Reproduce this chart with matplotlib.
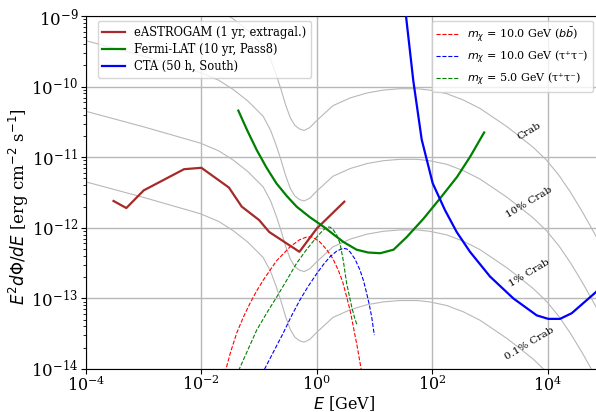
import numpy as np
import matplotlib
matplotlib.use('Agg')
import matplotlib.pyplot as plt

plt.rcParams['font.family'] = 'serif'

# Crab reference spectrum (log10 E [GeV], log10 E^2 dN/dE [erg cm^-2 s^-1])
crab_logE = [-4.0, -3.0, -2.02, -1.7, -1.45, -1.2, -0.93, -0.80, -0.70, -0.62, -0.54, -0.46,
             -0.38, -0.30, -0.22, -0.12, 0.0, 0.28, 0.58, 0.87, 1.15, 1.44, 1.74, 1.96, 2.25,
             2.54, 2.83, 3.12, 3.3, 3.52, 3.75, 3.98, 4.2, 4.4, 4.6, 4.84, 5.0]
crab_logF = [-8.35, -8.57, -8.80, -8.91, -9.04, -9.20, -9.42, -9.62, -9.84, -10.04, -10.26,
             -10.44, -10.55, -10.60, -10.62, -10.58, -10.48, -10.27, -10.16, -10.09, -10.05,
             -10.03, -10.03, -10.05, -10.10, -10.19, -10.31, -10.47, -10.57, -10.71, -10.86,
             -11.04, -11.26, -11.5, -11.77, -12.12, -12.38]
crab_scales = [1.0, 0.1, 0.01, 0.001]
crab_labels = ['Crab', '10% Crab', '1% Crab', '0.1% Crab']

# instrument sensitivities
eastrogam_E = [0.0003, 0.0005, 0.001, 0.005, 0.01, 0.03, 0.05, 0.1, 0.15, 0.5, 1.0, 3.0]
eastrogam_logF = [-11.62, -11.72, -11.47, -11.17, -11.15, -11.43, -11.70, -11.89, -12.06,
                  -12.34, -12.01, -11.63]

fermi_logE = [-1.36, -1.2, -1.04, -0.87, -0.70, -0.52, -0.35, -0.12, 0.11, 0.3, 0.46, 0.69,
              0.89, 1.10, 1.33, 1.56, 1.85, 2.14, 2.43, 2.66, 2.90]
fermi_logF = [-10.34, -10.63, -10.90, -11.15, -11.37, -11.55, -11.70, -11.85, -11.98, -12.10,
              -12.20, -12.31, -12.35, -12.36, -12.31, -12.13, -11.87, -11.58, -11.28, -10.99,
              -10.65]

cta_logE = [1.50, 1.546, 1.673, 1.818, 2.009, 2.222, 2.425, 2.655, 3.002, 3.406, 3.811, 4.012,
            4.215, 4.418, 4.839, 5.0]
cta_logF = [-8.7, -9.0, -9.92, -10.75, -11.37, -11.75, -12.06, -12.34, -12.69, -13.00, -13.24,
            -13.29, -13.29, -13.21, -12.91, -12.76]

# dark matter spectra
dm_bb10_logE = [-1.65, -1.574, -1.49, -1.388, -1.27, -1.158, -1.04, -0.927, -0.70, -0.464,
                -0.30, -0.175, -0.088, 0.04, 0.172, 0.28, 0.373, 0.45, 0.518, 0.58, 0.633,
                0.70, 0.766, 0.80]
dm_bb10_logF = [-14.3, -14.0, -13.75, -13.49, -13.26, -13.07, -12.89, -12.74, -12.47, -12.27,
                -12.17, -12.13, -12.13, -12.19, -12.31, -12.44, -12.60, -12.77, -12.98,
                -13.18, -13.40, -13.68, -13.99, -14.2]
dm_tt10_logE = [-0.95, -0.898, -0.74, -0.581, -0.44, -0.291, -0.15, -0.002, 0.115, 0.229,
                0.345, 0.459, 0.52, 0.575, 0.66, 0.749, 0.81, 0.865, 0.91, 0.951, 0.997]
dm_tt10_logF = [-14.08, -13.99, -13.74, -13.49, -13.25, -13.02, -12.83, -12.65, -12.52, -12.41,
                -12.33, -12.29, -12.30, -12.34, -12.44, -12.60, -12.75, -12.93, -13.09,
                -13.26, -13.52]
dm_tt5_logE = [-1.40, -1.343, -1.19, -1.042, -0.87, -0.695, -0.52, -0.348, -0.17, 0.0, 0.09,
               0.172, 0.23, 0.286, 0.345, 0.402, 0.46, 0.518, 0.56, 0.605, 0.65, 0.702]
dm_tt5_logF = [-14.1, -14.0, -13.72, -13.45, -13.21, -12.98, -12.74, -12.50, -12.30, -12.13,
               -12.05, -11.99, -11.99, -12.03, -12.10, -12.22, -12.47, -12.79, -12.95,
               -13.12, -13.26, -13.39]

fig = plt.figure(figsize=(5.96, 4.12), dpi=100)
ax = fig.add_axes([86 / 596, 43 / 412, 513.7 / 596, 353 / 412])

crabE = np.power(10.0, crab_logE)
crabF = np.power(10.0, crab_logF)
for s, lab in zip(crab_scales, crab_labels):
    ax.plot(crabE, crabF * s, color='0.72', lw=0.8, zorder=1)
    ax.text(4.8e3, 2.3e-11 * s, lab, rotation=31, fontsize=7.5,
            ha='center', va='center', zorder=2)

l1, = ax.plot(eastrogam_E, np.power(10.0, eastrogam_logF), color='brown', lw=1.6,
              label='eASTROGAM (1 yr, extragal.)', zorder=3)
l2, = ax.plot(np.power(10.0, fermi_logE), np.power(10.0, fermi_logF), color='green', lw=1.6,
              label='Fermi-LAT (10 yr, Pass8)', zorder=3)
l3, = ax.plot(np.power(10.0, cta_logE), np.power(10.0, cta_logF), color='blue', lw=1.6,
              label='CTA (50 h, South)', zorder=3)

d1, = ax.plot(np.power(10.0, dm_bb10_logE), np.power(10.0, dm_bb10_logF), 'r--', lw=0.8,
              label=r'$m_\chi$ = 10.0 GeV ($b\bar{b}$)', zorder=3)
d2, = ax.plot(np.power(10.0, dm_tt10_logE), np.power(10.0, dm_tt10_logF), 'b--', lw=0.8,
              label='$m_\\chi$ = 10.0 GeV (\u03c4\u207a\u03c4\u207b)', zorder=3)
d3, = ax.plot(np.power(10.0, dm_tt5_logE), np.power(10.0, dm_tt5_logF), 'g--', lw=0.8,
              label='$m_\\chi$ = 5.0 GeV (\u03c4\u207a\u03c4\u207b)', zorder=3)

ax.set_xscale('log')
ax.set_yscale('log')
ax.set_xlim(1e-4, 8e4)
ax.set_ylim(1e-14, 1e-9)
ax.set_xticks([1e-4, 1e-2, 1e0, 1e2, 1e4])
ax.xaxis.set_minor_locator(matplotlib.ticker.NullLocator())
ax.set_yticks([1e-14, 1e-13, 1e-12, 1e-11, 1e-10, 1e-9])
ax.yaxis.set_minor_locator(matplotlib.ticker.LogLocator(base=10, subs=np.arange(2, 10)))
ax.yaxis.set_minor_formatter(matplotlib.ticker.NullFormatter())
ax.tick_params(axis='y', labelsize=12, pad=2)
ax.tick_params(axis='x', labelsize=11.5, pad=1)
ax.grid(True, which='major', color='0.72', lw=1.0)
ax.set_axisbelow(True)

ax.set_xlabel(r'$E$ [GeV]', fontsize=11.5, va='top')
ax.xaxis.set_label_coords(0.502, -0.071)
ax.set_ylabel(r'$E^2 d\Phi/dE$ [erg cm$^{-2}$ s$^{-1}$]', fontsize=12)
ax.yaxis.set_label_coords(-0.108, 0.46)

leg1 = ax.legend(handles=[l1, l2, l3], loc='upper left', fontsize=8.3, labelspacing=0.37,
                 bbox_to_anchor=(0.0224, 0.986), borderaxespad=0)
ax.add_artist(leg1)
ax.legend(handles=[d1, d2, d3], loc='upper right', fontsize=8,
          bbox_to_anchor=(0.987, 0.986), borderaxespad=0, labelspacing=0.4)

fig.savefig('out.png', dpi=100)
